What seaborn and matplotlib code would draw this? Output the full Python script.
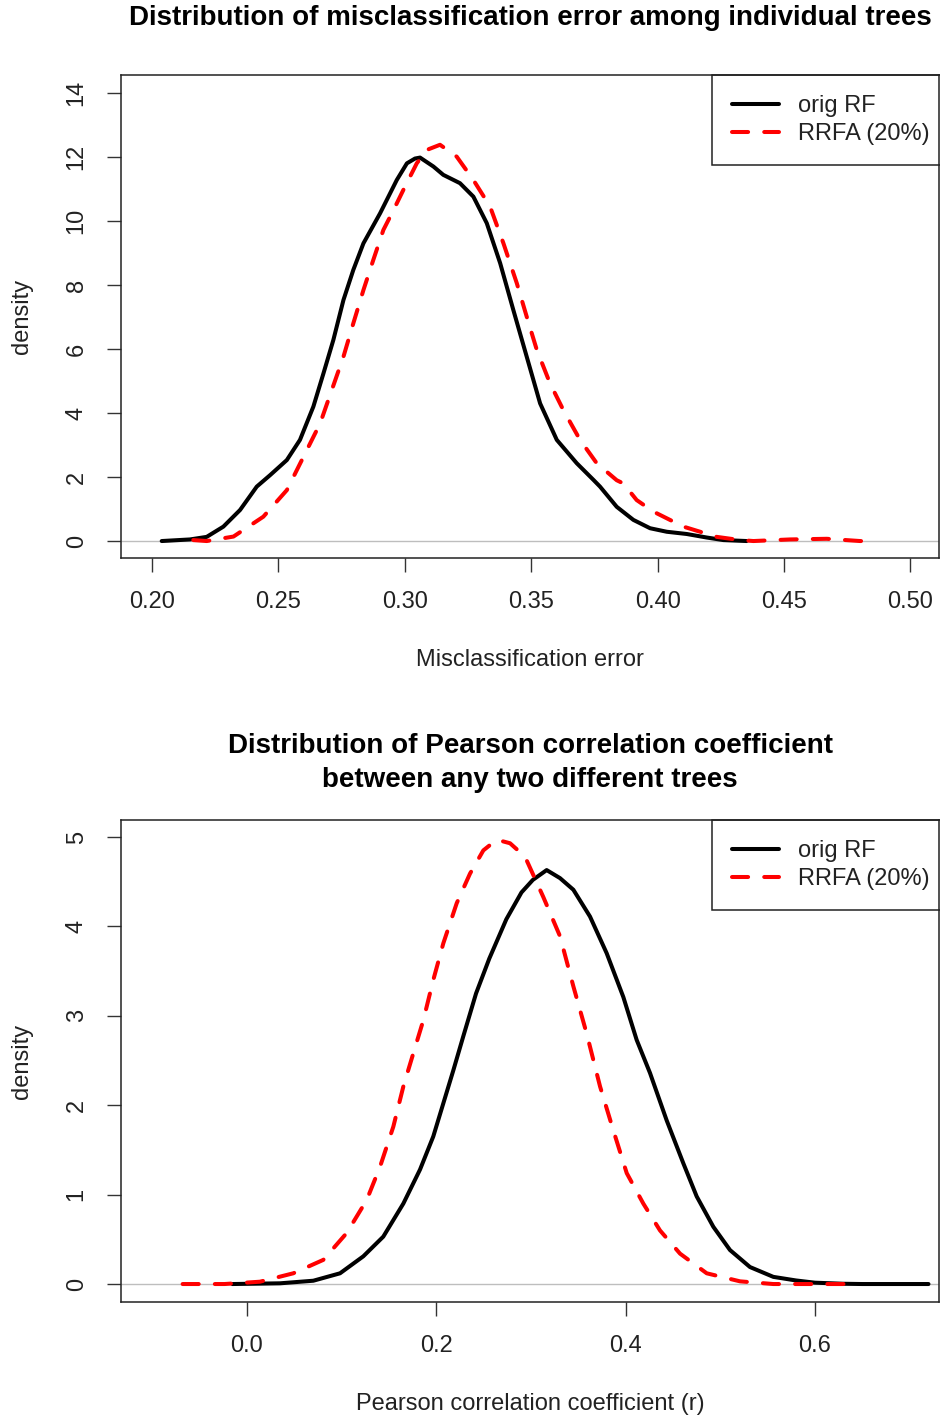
import numpy as np
import pandas as pd
import matplotlib
matplotlib.use("Agg")
import matplotlib.pyplot as plt
import seaborn as sns
from matplotlib.ticker import FormatStrFormatter

# ---- data (x, density) ----
mis_orig_x = [0.2038, 0.2150, 0.2216, 0.2282, 0.2348, 0.2414, 0.2467, 0.2533, 0.2585, 0.2638,
              0.2678, 0.2717, 0.2757, 0.2796, 0.2836, 0.2902, 0.2968, 0.3008, 0.3040, 0.3060,
              0.3113, 0.3152, 0.3218, 0.3271, 0.3324, 0.3377, 0.3429, 0.3482, 0.3535, 0.3601,
              0.3680, 0.3746, 0.3772, 0.3838, 0.3904, 0.3970, 0.4036, 0.4115, 0.4194, 0.4260,
              0.4352]
mis_orig_y = [0.00, 0.05, 0.13, 0.45, 0.97, 1.70, 2.06, 2.53, 3.16, 4.20,
              5.24, 6.28, 7.53, 8.47, 9.30, 10.24, 11.28, 11.80, 11.95, 11.98,
              11.70, 11.44, 11.18, 10.76, 9.93, 8.68, 7.22, 5.76, 4.30, 3.16,
              2.43, 1.91, 1.70, 1.07, 0.66, 0.40, 0.29, 0.22, 0.11, 0.03,
              0.00]

mis_rrfa_x = [0.2163, 0.2216, 0.2322, 0.2440, 0.2533, 0.2612, 0.2665, 0.2711, 0.2757, 0.2796,
              0.2836, 0.2875, 0.2915, 0.2955, 0.2994, 0.3047, 0.3087, 0.3139, 0.3205, 0.3271,
              0.3337, 0.3390, 0.3443, 0.3482, 0.3522, 0.3574, 0.3627, 0.3693, 0.3759, 0.3838,
              0.3864, 0.3917, 0.3983, 0.4102, 0.4234, 0.4326, 0.4379, 0.4524, 0.4669, 0.4801,
              0.4836]
mis_rrfa_y = [0.03, 0.00, 0.14, 0.76, 1.59, 2.84, 3.68, 4.72, 5.76, 6.80,
              7.84, 8.78, 9.72, 10.34, 10.97, 11.80, 12.22, 12.38, 12.01, 11.28,
              10.45, 9.30, 8.05, 7.01, 5.97, 4.93, 4.09, 3.16, 2.43, 1.90,
              1.80, 1.28, 0.92, 0.45, 0.13, 0.03, 0.00, 0.05, 0.07, 0.00,
              0.00]

cor_orig_x = [-0.0155, 0.0349, 0.0701, 0.0983, 0.1229, 0.1440, 0.1652, 0.1828, 0.1968, 0.2074,
              0.2180, 0.2285, 0.2420, 0.2560, 0.2740, 0.2900, 0.3020, 0.3166, 0.3307, 0.3448,
              0.3624, 0.3800, 0.3976, 0.4117, 0.4258, 0.4434, 0.4610, 0.4751, 0.4927, 0.5103,
              0.5314, 0.5561, 0.5800, 0.6000, 0.6300, 0.6500, 0.7200]
cor_orig_y = [0.000, 0.008, 0.037, 0.120, 0.310, 0.530, 0.900, 1.280, 1.650, 2.020,
              2.390, 2.770, 3.250, 3.640, 4.080, 4.380, 4.520, 4.630, 4.540, 4.410,
              4.110, 3.700, 3.210, 2.730, 2.360, 1.830, 1.350, 0.980, 0.640, 0.380,
              0.190, 0.080, 0.040, 0.015, 0.003, 0.000, 0.000]

cor_rrfa_x = [-0.0680, -0.0238, 0.0137, 0.0489, 0.0806, 0.1053, 0.1265, 0.1405, 0.1546, 0.1652,
              0.1757, 0.1863, 0.1968, 0.2074, 0.2216, 0.2356, 0.2497, 0.2638, 0.2779, 0.2937,
              0.3130, 0.3307, 0.3448, 0.3589, 0.3730, 0.3870, 0.4012, 0.4187, 0.4363, 0.4575,
              0.4857, 0.5209, 0.5561, 0.6000, 0.6400]
cor_rrfa_y = [0.000, 0.000, 0.026, 0.120, 0.270, 0.570, 0.940, 1.310, 1.760, 2.210,
              2.580, 2.950, 3.400, 3.810, 4.260, 4.590, 4.850, 4.970, 4.930, 4.780,
              4.330, 3.890, 3.330, 2.800, 2.210, 1.720, 1.240, 0.900, 0.600, 0.340,
              0.120, 0.030, 0.000, 0.000, 0.000]

series_labels = ["orig RF", "RRFA (20%)"]
mis_xticks = [0.20, 0.25, 0.30, 0.35, 0.40, 0.45, 0.50]
mis_yticks = [0, 2, 4, 6, 8, 10, 12, 14]
cor_xticks = [0.0, 0.2, 0.4, 0.6]
cor_yticks = [0, 1, 2, 3, 4, 5]

title_top = "Distribution of misclassification error among individual trees"
title_bottom = "Distribution of Pearson correlation coefficient\nbetween any two different trees"

# ---- styling ----
sns.set_theme(style="white")
plt.rcParams["font.family"] = ["Liberation Sans", "DejaVu Sans"]
plt.rcParams["lines.scale_dashes"] = True

FS = 17
W, H = 940, 1418
fig = plt.figure(figsize=(W / 100, H / 100), dpi=100)
fig.patch.set_facecolor("white")

ax1 = fig.add_axes([121 / W, 1 - 558 / H, 818 / W, 483 / H])
ax2 = fig.add_axes([121 / W, 1 - 1302 / H, 818 / W, 482 / H])


def draw(ax, ox, oy, rx, ry, xlim, ylim, xticks, yticks, xfmt, xlabel, title, title_y):
    ax.axhline(0, color="#bebebe", lw=1.0, zorder=1)
    d1 = pd.DataFrame({"x": ox, "y": oy})
    d2 = pd.DataFrame({"x": rx, "y": ry})
    sns.lineplot(data=d1, x="x", y="y", ax=ax, color="black", lw=2.9,
                 estimator=None, sort=False, label=series_labels[0],
                 solid_capstyle="round", solid_joinstyle="round", zorder=3)
    sns.lineplot(data=d2, x="x", y="y", ax=ax, color="#ff0000", lw=2.9,
                 estimator=None, sort=False, label=series_labels[1],
                 linestyle=(0, (4, 4)), dash_capstyle="round",
                 dash_joinstyle="round", zorder=4)
    ax.set_xlim(*xlim)
    ax.set_ylim(*ylim)
    ax.set_xticks(xticks)
    ax.set_yticks(yticks)
    ax.xaxis.set_major_formatter(FormatStrFormatter(xfmt))
    ax.tick_params(axis="both", which="major", direction="out", length=10, width=1.0,
                   color="#333333", labelcolor="#222222", labelsize=FS, pad=14,
                   bottom=True, left=True)
    ax.tick_params(axis="y", labelrotation=90)
    for lab in ax.get_yticklabels():
        lab.set_verticalalignment("center")
    for s in ax.spines.values():
        s.set_color("#222222")
        s.set_linewidth(1.1)
        s.set_zorder(10)
    ax.set_xlabel(xlabel, fontsize=FS, color="#222222")
    ax.xaxis.set_label_coords(0.5, -0.188)
    ax.set_ylabel("density", fontsize=FS, color="#222222")
    ax.yaxis.set_label_coords(-0.108, 0.5)
    ax.text(0.5, title_y, title, transform=ax.transAxes, ha="center", va="center",
            fontsize=20, fontweight="bold", color="black", linespacing=1.42)
    leg = ax.legend(loc="upper right", bbox_to_anchor=(1 + 11 / 818, 1.0),
                    borderaxespad=0, fancybox=False, frameon=True,
                    edgecolor="#222222", framealpha=1, fontsize=FS, handlelength=2.0,
                    handletextpad=0.8, borderpad=0.85, labelspacing=0.25)
    leg.get_frame().set_linewidth(1.1)
    leg.set_zorder(6)
    for t in leg.get_texts():
        t.set_color("#222222")
    ax.grid(False)


draw(ax1, mis_orig_x, mis_orig_y, mis_rrfa_x, mis_rrfa_y,
     (0.1877, 0.5113), (-0.53, 14.56), mis_xticks, mis_yticks, "%.2f",
     "Misclassification error", title_top, 1 + 57 / 483)
draw(ax2, cor_orig_x, cor_orig_y, cor_rrfa_x, cor_rrfa_y,
     (-0.1331, 0.7311), (-0.201, 5.19), cor_xticks, cor_yticks, "%.1f",
     "Pearson correlation coefficient (r)", title_bottom, 1 + 57 / 482)

fig.savefig("out.png", dpi=100, facecolor="white")
